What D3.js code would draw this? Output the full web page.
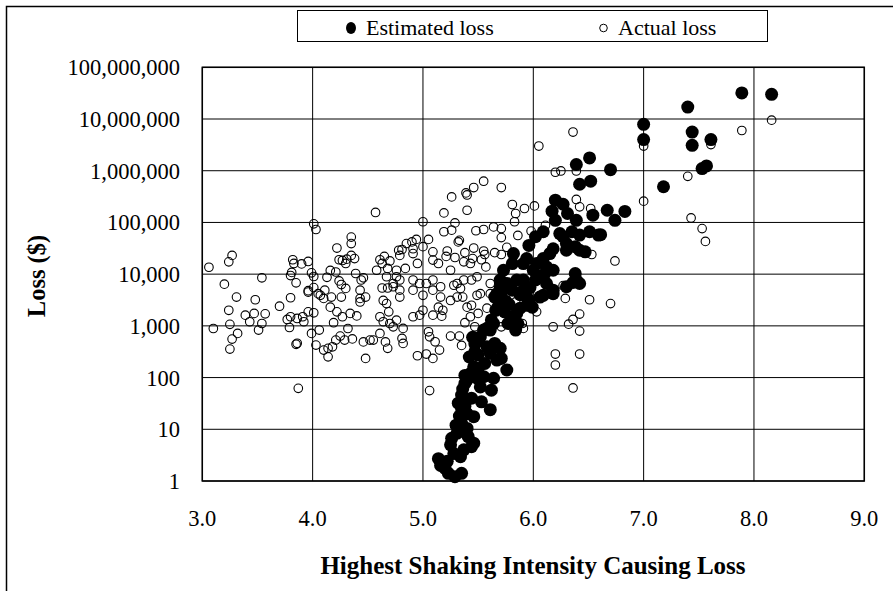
<!DOCTYPE html>
<html>
<head>
<meta charset="utf-8">
<script src="https://cdn.jsdelivr.net/npm/d3@7"></script>
<style>
  body { margin: 0; background: #fff; }
  text { font-family: "Liberation Serif", "Times New Roman", serif; fill: #000; }
</style>
</head>
<body>
<script>
// [intensity, loss $]
const estimated = [
  [7.89, 32000000], [8.16, 30000000], [7.40, 17000000], [7.44, 5600000], [7.44, 3100000],
  [7.61, 4000000], [7.53, 1100000], [7.57, 1240000], [7.00, 7900000], [7.00, 4000000],
  [7.18, 490000], [6.70, 1050000], [6.67, 172000], [6.83, 163000], [6.74, 110000],
  [6.61, 58000], [6.39, 1320000], [6.51, 1770000], [6.42, 548000], [6.52, 627000],
  [6.20, 269000], [6.27, 225000], [6.17, 165000], [6.20, 110000], [6.31, 149000],
  [6.39, 110000], [6.54, 138000], [5.96, 36000], [6.02, 53000], [6.09, 66000],
  [6.24, 61000], [6.27, 53000], [6.35, 66000], [6.42, 57000], [6.51, 66000],
  [6.59, 57000], [6.30, 39000], [6.38, 34000], [6.42, 29000], [6.47, 27000],
  [6.30, 29000], [6.18, 31000], [6.15, 25000], [6.09, 20000], [6.03, 16000],
  [5.94, 20000], [5.91, 16000], [5.82, 25000], [5.81, 16000], [5.73, 11900],
  [5.70, 7700], [5.67, 4200], [5.76, 6600], [5.81, 4900], [5.85, 7700],
  [5.91, 7700], [6.00, 11900], [6.02, 7700], [6.12, 13800], [6.18, 11900],
  [6.12, 6600], [6.18, 4900], [5.91, 4900], [6.39, 7700], [6.38, 10300],
  [6.42, 6600], [5.94, 3600], [6.06, 3600], [6.36, 6900], [6.30, 5700],
  [6.18, 4200], [6.09, 3900], [5.96, 3100], [5.99, 2300], [5.94, 2500],
  [5.88, 2200], [5.85, 1740], [5.81, 1500], [5.86, 1110], [5.84, 830],
  [5.77, 1110], [5.74, 1870], [5.71, 3100], [5.71, 4200], [5.70, 5700],
  [5.68, 2300], [5.65, 3600], [5.64, 1110], [5.61, 830], [5.55, 830],
  [5.52, 610], [5.49, 490], [5.47, 315], [5.50, 272], [5.58, 394],
  [5.65, 458], [5.70, 367], [5.71, 235], [5.76, 140], [5.67, 218],
  [5.61, 294], [5.56, 188], [5.46, 162], [5.43, 120], [5.40, 90],
  [5.38, 77], [5.49, 97], [5.55, 104], [5.64, 97], [5.62, 57],
  [5.52, 66], [5.53, 34], [5.61, 24], [5.35, 46], [5.32, 32],
  [5.35, 25], [5.40, 20], [5.46, 17.5], [5.35, 13], [5.34, 10.4],
  [5.31, 8.4], [5.40, 10.4], [5.41, 7.2], [5.46, 5.4], [5.44, 4.6],
  [5.26, 6.7], [5.25, 5.0], [5.28, 3.4], [5.34, 2.95], [5.37, 4.0],
  [5.14, 2.7], [5.16, 2.0], [5.20, 1.76], [5.23, 1.41], [5.29, 1.21],
  [5.35, 1.41], [5.22, 2.4], [5.45, 600], [5.47, 450], [5.42, 250],
  [5.38, 110], [5.36, 60], [5.33, 18], [5.30, 12], [5.38, 28],
  [5.44, 40], [5.50, 150], [5.58, 900], [5.62, 1300], [5.66, 2000],
  [5.75, 3000], [5.78, 2600], [5.88, 4000], [5.97, 5500], [6.05, 9000], [6.10, 10000]
];

const actual = [
  [4.57, 156000], [4.01, 94000], [4.03, 73000], [4.35, 52000], [4.35, 39000],
  [4.22, 32000], [3.27, 23000], [3.24, 17300], [3.06, 13600], [3.82, 19000],
  [3.83, 16100], [3.90, 15800], [3.96, 17600], [4.24, 19000], [4.27, 18400],
  [4.31, 19500], [4.35, 23000], [4.38, 20000], [4.30, 16100], [3.54, 8500],
  [3.20, 6400], [3.31, 3600], [3.48, 3200], [3.80, 9400], [3.81, 10800],
  [3.85, 6800], [3.80, 3500], [3.99, 10600], [4.01, 9000], [3.96, 4800],
  [4.01, 5500], [4.16, 11800], [4.21, 11000], [4.13, 8700], [4.24, 7400],
  [4.26, 6300], [4.30, 5300], [4.39, 10300], [4.44, 7700], [4.46, 8500],
  [4.43, 4900], [4.58, 11900], [4.61, 19000], [4.65, 22000], [4.70, 18000],
  [4.68, 12900], [4.67, 8900], [4.63, 5400], [4.68, 5400], [4.76, 11900],
  [4.78, 29000], [4.76, 8900], [4.07, 3900], [4.11, 4900], [4.17, 3600],
  [4.26, 3600], [4.43, 3400], [3.24, 2000], [3.39, 1610], [3.47, 1740],
  [3.57, 1710], [3.70, 2400], [3.43, 1200], [3.54, 1110], [3.51, 830],
  [3.25, 1070], [3.10, 890], [3.32, 715], [3.27, 555], [3.25, 355],
  [3.77, 1330], [3.80, 1500], [3.86, 1390], [3.91, 1500], [3.92, 1200],
  [3.79, 930], [3.85, 440], [3.86, 460], [3.87, 62], [3.96, 1870],
  [4.01, 1790], [3.96, 4500], [3.99, 715], [4.06, 830], [4.03, 425],
  [4.10, 340], [4.14, 252], [4.14, 367], [4.18, 394], [4.21, 531],
  [4.25, 634], [4.29, 531], [4.36, 560], [4.32, 890], [4.19, 1150],
  [4.27, 1500], [4.34, 1740], [4.40, 1560], [4.43, 2900], [4.48, 3600],
  [4.46, 490], [4.52, 531], [4.48, 235], [4.55, 531], [4.61, 715],
  [4.66, 490], [4.68, 367], [4.61, 1500], [4.64, 1200], [4.69, 1870],
  [4.70, 1110], [4.76, 1290], [4.64, 3100], [4.67, 2700], [4.22, 1870],
  [4.10, 3400], [4.05, 4200], [4.16, 2300],
  [6.36, 5600000], [6.05, 3000000], [6.20, 935000], [6.25, 990000], [6.39, 990000],
  [6.39, 278000], [6.42, 200000], [6.52, 186000], [6.01, 209000], [5.92, 186000],
  [5.81, 222000], [5.84, 149000], [5.83, 103000], [5.71, 473000], [5.55, 627000],
  [5.46, 473000], [5.39, 372000], [5.40, 340000], [5.26, 312000], [5.40, 172000],
  [5.19, 153000], [5.29, 98000], [5.00, 103000], [5.19, 66000], [5.26, 71000],
  [5.48, 69000], [5.55, 73000], [5.64, 82000], [5.71, 76000], [5.71, 51000],
  [5.86, 56000], [5.98, 68000], [6.11, 88000], [5.33, 45000], [5.32, 42000],
  [5.46, 32000], [5.38, 26000], [5.55, 28000], [5.56, 24000], [5.65, 26000],
  [5.71, 24000], [5.76, 33000], [5.09, 27000], [5.22, 28000], [5.21, 22000],
  [5.29, 21000], [4.90, 42000], [4.85, 39000], [4.94, 47000], [5.05, 47000],
  [5.00, 34000], [4.91, 31000], [4.81, 30000], [4.79, 23000], [4.91, 25000],
  [4.63, 16100], [4.84, 12900], [4.95, 16100], [5.09, 18700], [5.14, 16100],
  [5.25, 11900], [5.37, 17300], [5.43, 16100], [5.45, 20000], [5.53, 19000],
  [5.57, 13800], [5.37, 7700], [5.44, 7700], [5.49, 8900], [5.31, 6600],
  [5.16, 5700], [5.09, 7700], [5.03, 6600], [4.97, 6600], [4.91, 7700],
  [4.79, 7700], [4.73, 6600], [4.79, 4900], [4.91, 4900], [5.16, 3600],
  [5.31, 3600], [5.49, 3900], [5.61, 4200], [6.74, 18000], [6.53, 24000],
  [6.27, 6000], [6.51, 3200], [6.29, 3400], [6.70, 2700], [6.42, 1690],
  [6.36, 1330], [6.32, 1080], [6.18, 960], [6.42, 792], [6.20, 285],
  [6.20, 175], [6.42, 285], [6.36, 63], [5.06, 56], [5.05, 768],
  [5.06, 614], [5.11, 492], [5.15, 340], [5.09, 235], [5.03, 285],
  [4.95, 264], [5.25, 634], [5.33, 634], [5.35, 419], [5.38, 1150],
  [5.43, 1500], [5.47, 960], [5.50, 1740], [5.58, 2200], [5.40, 2300],
  [5.44, 2500], [4.81, 572], [4.82, 458], [4.73, 960], [4.82, 893],
  [4.91, 1500], [4.97, 1610], [5.09, 1610], [5.17, 1540], [5.18, 2000],
  [5.00, 2000], [5.14, 2300], [5.25, 3100], [5.36, 3600], [5.00, 3900],
  [4.79, 3600], [5.09, 4900], [4.73, 5700], [5.34, 5300], [5.28, 6100],
  [5.61, 6600], [5.52, 4200], [5.84, 2900], [6.03, 1870], [5.91, 893],
  [5.90, 1110], [5.71, 960],
  [7.89, 6000000], [8.16, 9500000], [7.61, 3200000], [7.40, 780000], [7.43, 122000],
  [7.53, 76000], [7.56, 43000], [7.00, 3000000], [7.00, 258000]
];

const xTicks = [3, 4, 5, 6, 7, 8, 9];
const yTicks = [1, 10, 100, 1000, 10000, 100000, 1000000, 10000000, 100000000];
const seriesNames = ['Estimated loss', 'Actual loss'];

const W = 893, H = 591;
const m = { left: 202.3, right: 864.3, top: 67.3, bottom: 481 };

const svg = d3.select('body').append('svg')
  .attr('width', W)
  .attr('height', H);

// outer frame
svg.append('rect')
  .attr('x', 6.5).attr('y', 6.5)
  .attr('width', 1000).attr('height', 1000)
  .attr('fill', 'none').attr('stroke', '#000').attr('stroke-width', 1.5);

const x = d3.scaleLinear().domain([3, 9]).range([m.left, m.right]);
const y = d3.scaleLog().domain([1, 1e8]).range([m.bottom, m.top]);

const g = svg.append('g');

// grid
g.selectAll('line.vx').data(xTicks).join('line')
  .attr('x1', d => x(d)).attr('x2', d => x(d))
  .attr('y1', m.top).attr('y2', m.bottom)
  .attr('stroke', '#000').attr('stroke-width', 1);
g.selectAll('line.hy').data(yTicks).join('line')
  .attr('x1', m.left).attr('x2', m.right)
  .attr('y1', d => y(d)).attr('y2', d => y(d))
  .attr('stroke', '#000').attr('stroke-width', 1);

g.append('rect')
  .attr('x', m.left).attr('y', m.top)
  .attr('width', m.right - m.left).attr('height', m.bottom - m.top)
  .attr('fill', 'none').attr('stroke', '#000').attr('stroke-width', 1.5);

// tick labels
g.selectAll('text.yt').data(yTicks).join('text')
  .attr('x', 180).attr('y', d => y(d) + 8)
  .attr('text-anchor', 'end')
  .style('font-size', '22.5px')
  .text(d3.format(','));

g.selectAll('text.xt').data(xTicks).join('text')
  .attr('x', d => x(d)).attr('y', 526)
  .attr('text-anchor', 'middle')
  .style('font-size', '22.5px')
  .text(d3.format('.1f'));

// axis titles
svg.append('text')
  .attr('x', 533).attr('y', 574)
  .attr('text-anchor', 'middle')
  .style('font-size', '25px').style('font-weight', 'bold')
  .text('Highest Shaking Intensity Causing Loss');

svg.append('text')
  .attr('transform', 'translate(45,276) rotate(-90)')
  .attr('text-anchor', 'middle')
  .style('font-size', '24.5px').style('font-weight', 'bold')
  .text('Loss ($)');

// points: actual (open) below, estimated (filled) on top
g.append('g').selectAll('circle').data(actual).join('circle')
  .attr('cx', d => x(d[0])).attr('cy', d => y(d[1]))
  .attr('r', 4.3)
  .attr('fill', 'none').attr('stroke', '#000').attr('stroke-width', 1.1);

g.append('g').selectAll('circle').data(estimated).join('circle')
  .attr('cx', d => x(d[0])).attr('cy', d => y(d[1]))
  .attr('r', 6.5)
  .attr('fill', '#000');

// legend
const lg = svg.append('g');
lg.append('rect')
  .attr('x', 297.5).attr('y', 10.5).attr('width', 470).attr('height', 31)
  .attr('fill', '#fff').attr('stroke', '#000').attr('stroke-width', 1);
lg.append('ellipse')
  .attr('cx', 351).attr('cy', 28).attr('rx', 5).attr('ry', 6)
  .attr('fill', '#000');
lg.append('text')
  .attr('x', 366).attr('y', 35)
  .style('font-size', '22px')
  .text(seriesNames[0]);
lg.append('circle')
  .attr('cx', 603.5).attr('cy', 28).attr('r', 3.8)
  .attr('fill', 'none').attr('stroke', '#000').attr('stroke-width', 1);
lg.append('text')
  .attr('x', 618).attr('y', 35)
  .style('font-size', '22px')
  .text(seriesNames[1]);
</script>
</body>
</html>
